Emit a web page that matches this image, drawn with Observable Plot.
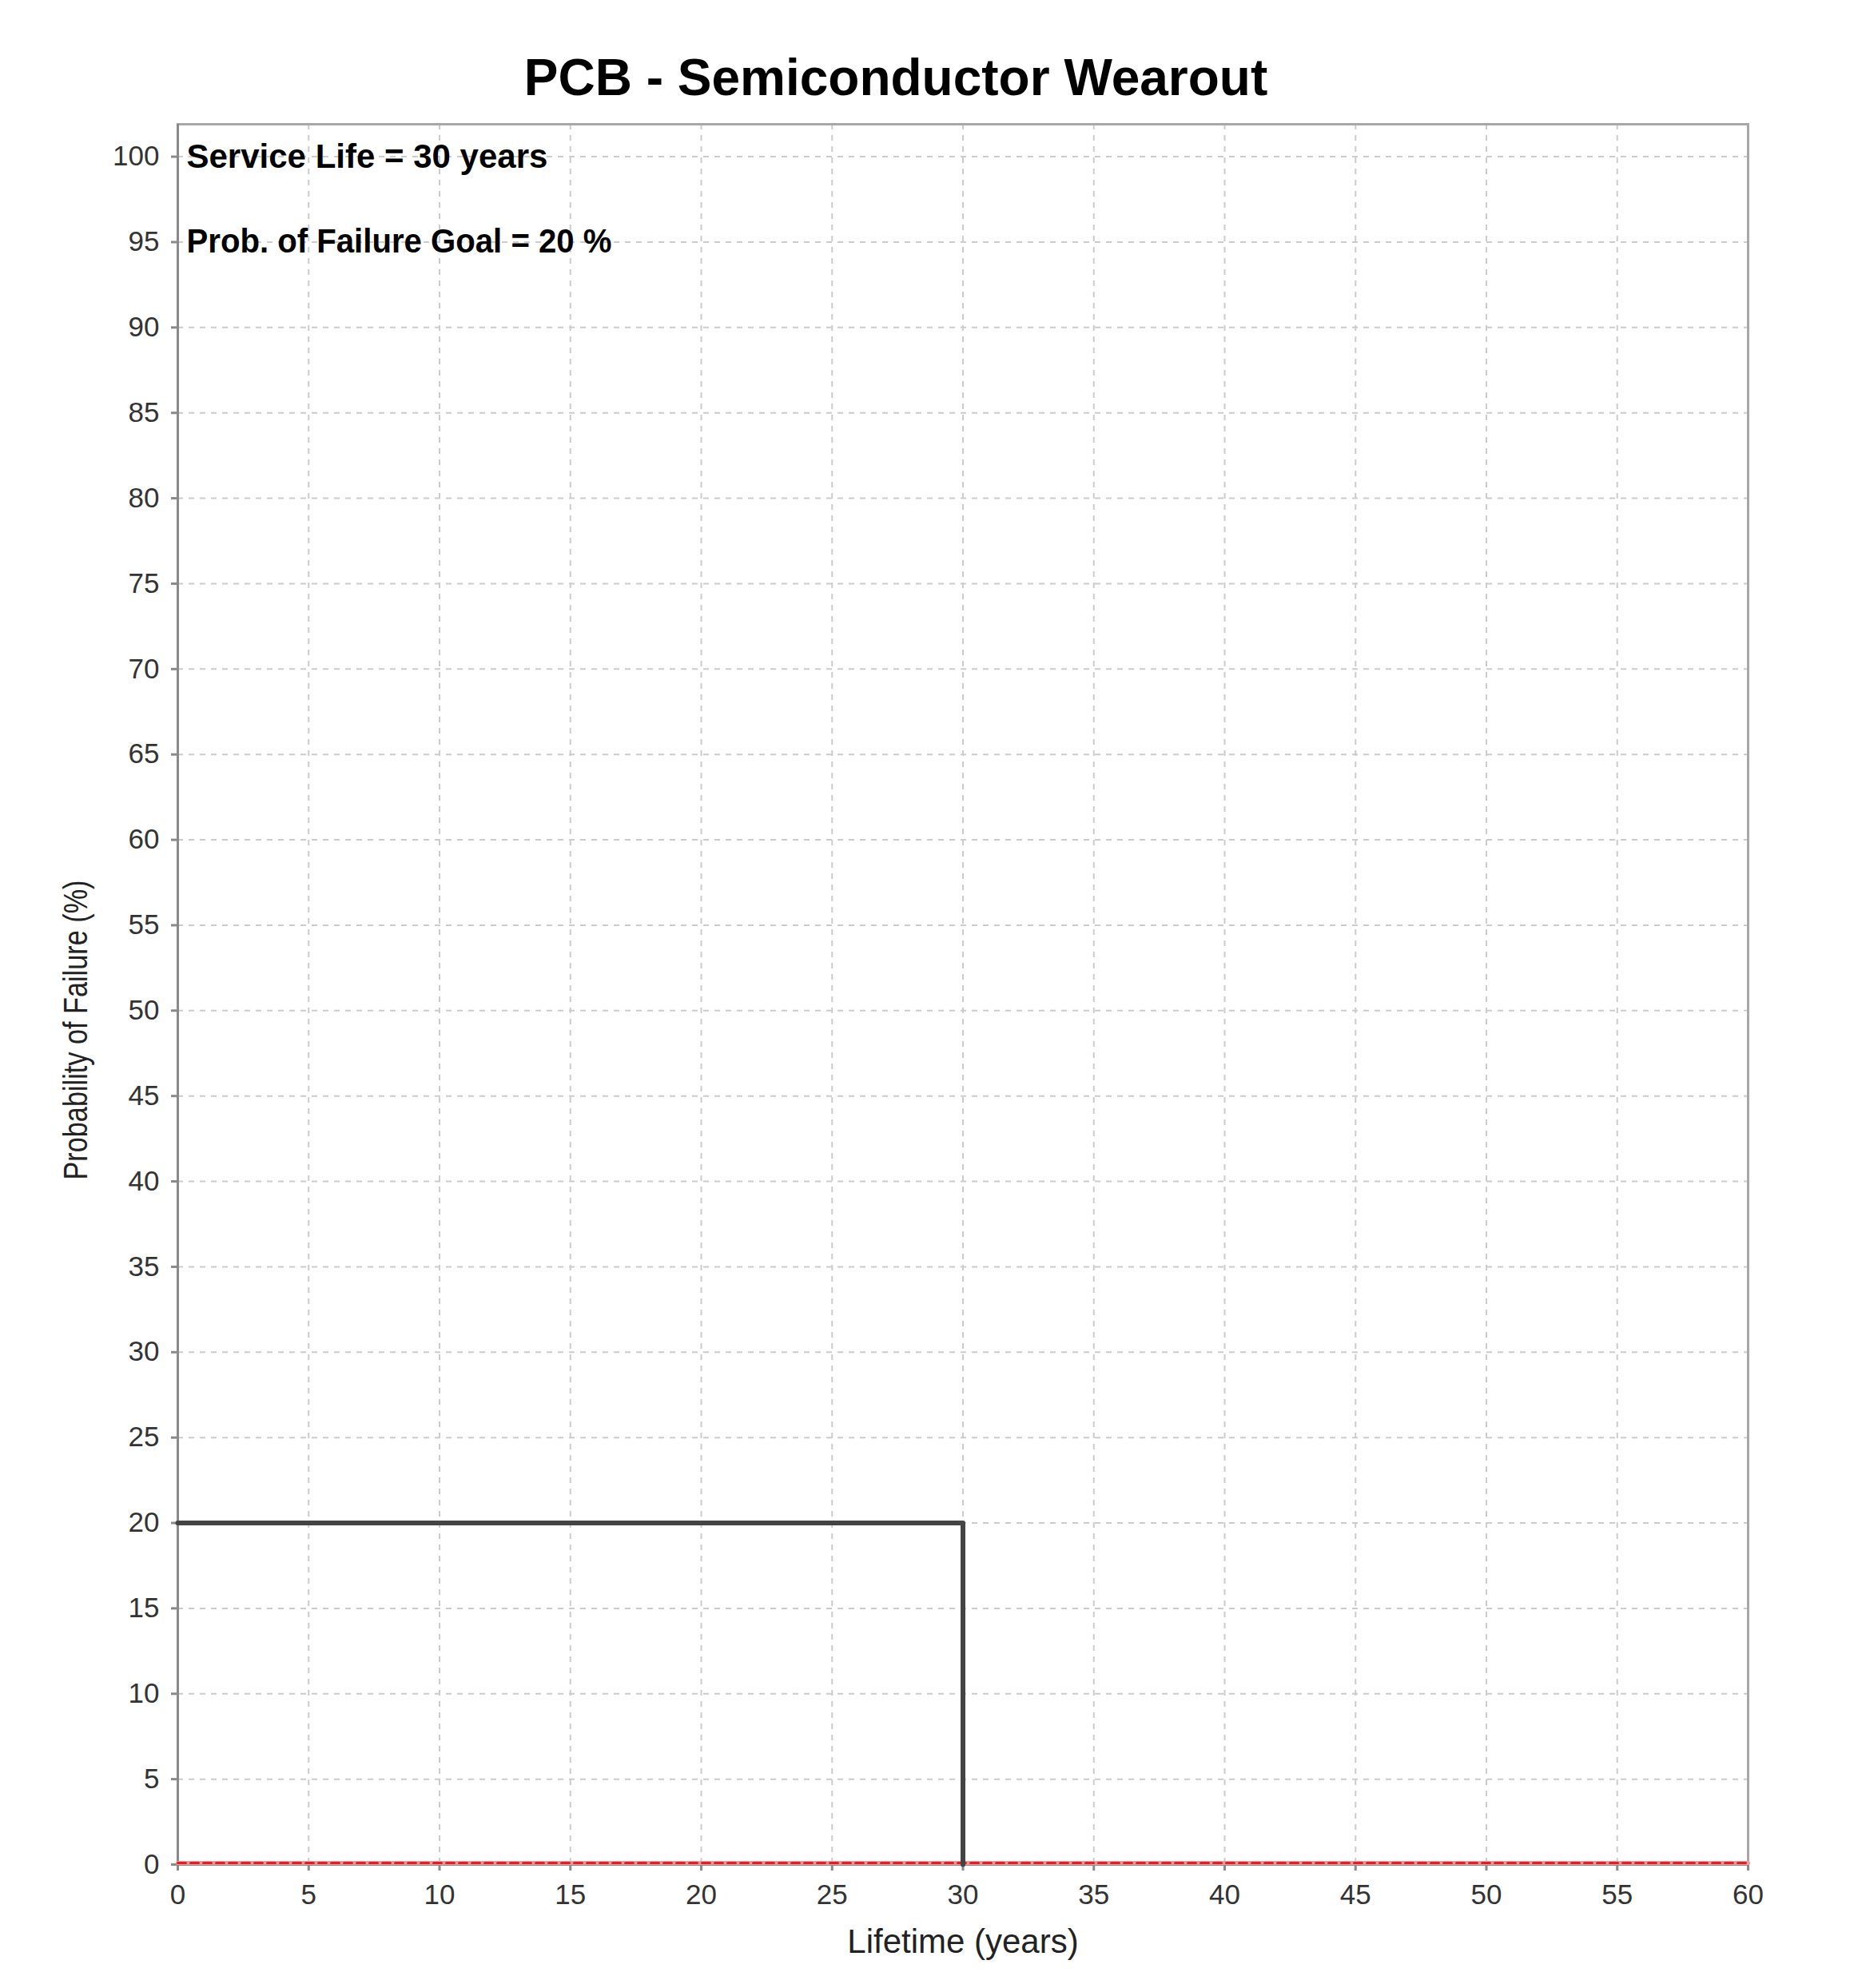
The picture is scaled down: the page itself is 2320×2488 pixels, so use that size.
<!DOCTYPE html>
<html>
<head>
<meta charset="utf-8">
<script src="https://cdn.jsdelivr.net/npm/d3@7"></script>
<script src="https://cdn.jsdelivr.net/npm/@observablehq/plot@0.6"></script>
<style>
html, body { margin: 0; padding: 0; background: #fff; }
#title {
  width: 2242px; height: 140px; box-sizing: border-box; padding-top: 66px;
  font-family: "Liberation Sans", Arial, sans-serif; font-weight: bold; font-size: 64px;
  line-height: 62px; text-align: center; color: #000; white-space: nowrap;
}
#chart svg { display: block; }
</style>
</head>
<body>
<div id="title">PCB - Semiconductor Wearout</div>
<div id="chart"></div>
<script>
// ---- data ----
const xTicks = [0, 5, 10, 15, 20, 25, 30, 35, 40, 45, 50, 55, 60];
const yTicks = [0, 5, 10, 15, 20, 25, 30, 35, 40, 45, 50, 55, 60, 65, 70, 75, 80, 85, 90, 95, 100];
const xDomain = [0, 60];
const yDomain = [0, 101.9];

// failure-goal boundary (service life 30 years, goal 20 %)
const goalX = [0, 30, 30];
const goalY = [20, 20, 0];

// computed probability of failure series (≈ 0 over the whole range)
const pofX = [0, 60];
const pofY = [0, 0];

// annotations
const annX = [0, 0];
const annY = [100, 95];
const annText = ["Service Life = 30 years", "Prob. of Failure Goal = 20 %"];

const xLabel = "Lifetime (years)";
const yLabel = "Probability of Failure (%)";

// ---- tables ----
const goal = goalX.map((x, i) => ({x, y: goalY[i]}));
const pof = pofX.map((x, i) => ({x, y: pofY[i]}));
const ann = annX.map((x, i) => ({x, y: annY[i], t: annText[i]}));

const gridStyle = {stroke: "#cccccc", strokeOpacity: 1, strokeWidth: 2, strokeDasharray: "7,7"};

const chart = Plot.plot({
  width: 2320,
  height: 2348,
  marginTop: 15,
  marginBottom: 155,
  marginLeft: 222,
  marginRight: 133,
  x: {domain: xDomain},
  y: {domain: yDomain},
  style: {fontFamily: '"Liberation Sans", Arial, sans-serif', fontSize: "35px", background: "#fff", color: "#333"},
  marks: [
    Plot.gridY(yTicks, gridStyle),
    Plot.gridX(xTicks, gridStyle),
    Plot.frame({stroke: "#a8a8a8", strokeWidth: 3}),
    Plot.ruleX([0], {stroke: "#8a8a8a", strokeWidth: 3}),
    Plot.ruleY([0], {stroke: "#8a8a8a", strokeWidth: 3}),
    Plot.axisX(xTicks, {tickSize: 8, tickPadding: 17, stroke: "#8a8a8a", strokeWidth: 3, fill: "#333", fontSize: 35, label: null}),
    Plot.axisY(yTicks, {tickSize: 8, tickPadding: 15, stroke: "#8a8a8a", strokeWidth: 3, fill: "#333", fontSize: 35, label: null}),
    Plot.line(pof, {x: "x", y: "y", stroke: "#f39a9a", strokeWidth: 5, dy: -2}),
    Plot.line(pof, {x: "x", y: "y", stroke: "#e21f26", strokeWidth: 3, strokeDasharray: "10,6", dy: -2}),
    Plot.line(goal, {x: "x", y: "y", stroke: "#444", strokeWidth: 6}),
    Plot.text(ann, {x: "x", y: "y", text: "t", textAnchor: "start", lineAnchor: "middle", dx: 11,
                    fontSize: 42, fontWeight: "bold", fill: "#000"}),
    Plot.text([xLabel], {frameAnchor: "bottom", lineAnchor: "bottom", dy: 110, fontSize: 42, fill: "#222"}),
    Plot.text([yLabel], {frameAnchor: "left", lineAnchor: "bottom", textAnchor: "start", rotate: -90,
                         dx: -114, dy: 232, fontSize: 42, fill: "#222"})
  ]
});

// the reference renders these strings horizontally condensed
const condensed = {[yLabel]: 375, [annText[1]]: 532};
chart.querySelectorAll("text").forEach(t => {
  const len = condensed[t.textContent];
  if (len) {
    t.setAttribute("textLength", String(len));
    t.setAttribute("lengthAdjust", "spacingAndGlyphs");
  }
});

document.getElementById("chart").appendChild(chart);
</script>
</body>
</html>
